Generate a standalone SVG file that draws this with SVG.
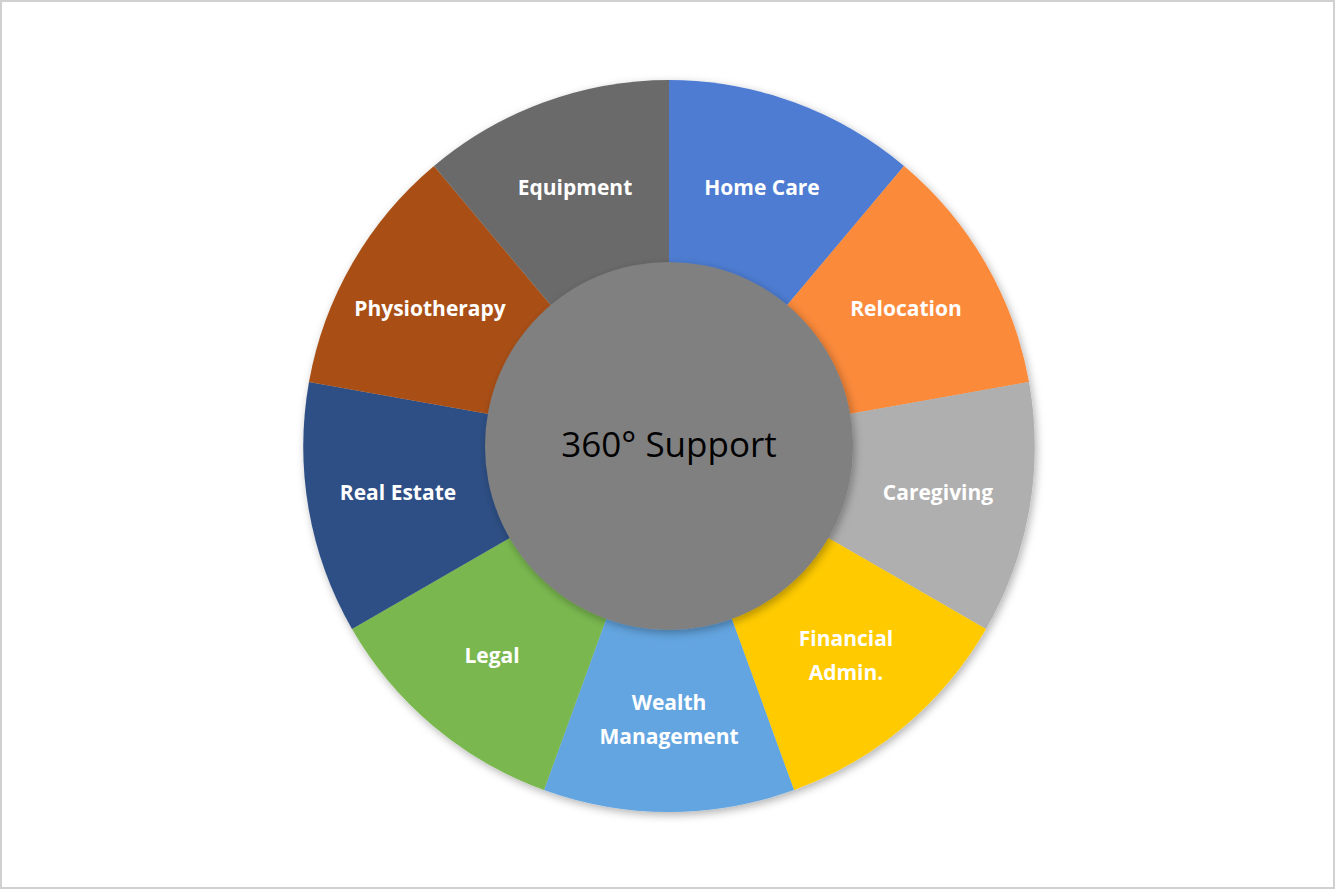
<svg xmlns="http://www.w3.org/2000/svg" width="1335" height="889" viewBox="0 0 1335 889">
<style>
.l{font-family:"Open Sans",Lato,sans-serif;font-weight:bold;font-size:21px;fill:#fff;text-anchor:middle}
.c{font-family:"Open Sans",Lato,sans-serif;font-size:35px;font-weight:500;fill:#000;text-anchor:middle}
</style>
<defs>
<filter id="sh" x="-20%" y="-20%" width="140%" height="140%"><feDropShadow dx="2" dy="3" stdDeviation="4" flood-opacity="0.3"/></filter>
</defs>
<rect x="1" y="1" width="1333" height="887" fill="#fff" stroke="#d0d0d0" stroke-width="2"/>
<g filter="url(#sh)">
<g id="home-care"><path d="M669,446 L669,80 A366,366 0 0 1 904,166 Z" fill="#4E7BD2"/></g>
<g id="relocation"><path d="M669,446 L904,166 A366,366 0 0 1 1029,382 Z" fill="#FB8A3B"/></g>
<g id="caregiving"><path d="M669,446 L1029,382 A366,366 0 0 1 986,629 Z" fill="#AFAFAF"/></g>
<g id="financial"><path d="M669,446 L986,629 A366,366 0 0 1 794,790 Z" fill="#FFCB05"/></g>
<g id="wealth"><path d="M669,446 L794,790 A366,366 0 0 1 544,790 Z" fill="#63A5E0"/></g>
<g id="legal"><path d="M669,446 L544,790 A366,366 0 0 1 352,629 Z" fill="#7AB84F"/></g>
<g id="real-estate"><path d="M669,446 L352,629 A366,366 0 0 1 309,382 Z" fill="#2F4F85"/></g>
<g id="physio"><path d="M669,446 L309,382 A366,366 0 0 1 434,166 Z" fill="#A94F13"/></g>
<g id="equipment"><path d="M669,446 L434,166 A366,366 0 0 1 669,80 Z" fill="#6A6A6A"/></g>
</g>
<g id="center"><circle cx="669" cy="446" r="184" fill="#808080" filter="url(#sh)"/>
<text class="c" x="669" y="457">360° Support</text></g>
<g id="labels">
<text class="l" x="762" y="195">Home Care</text>
<text class="l" x="906" y="316">Relocation</text>
<text class="l" x="938" y="500">Caregiving</text>
<text class="l" x="846" y="646">Financial</text>
<text class="l" x="846" y="680">Admin.</text>
<text class="l" x="669" y="710">Wealth</text>
<text class="l" x="669" y="744">Management</text>
<text class="l" x="492" y="663">Legal</text>
<text class="l" x="398" y="500">Real Estate</text>
<text class="l" x="430" y="316">Physiotherapy</text>
<text class="l" x="575" y="195">Equipment</text>
</g>
<g id="connectors"/>
</svg>
